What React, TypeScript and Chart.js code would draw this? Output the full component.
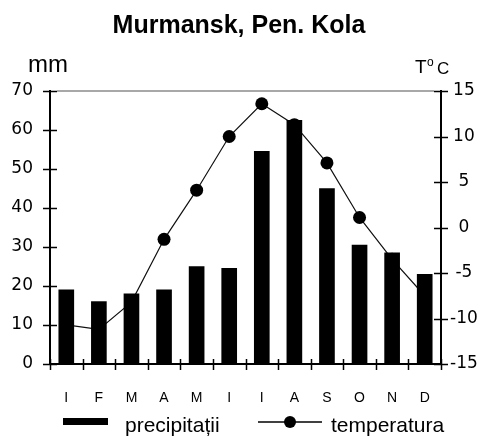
import React, { useEffect, useRef } from "react";
import { Chart, registerables } from "chart.js";

Chart.register(...registerables);

const months = ["I", "F", "M", "A", "M", "I", "I", "A", "S", "O", "N", "D"];
const precipitation = [19, 16, 18, 19, 25, 24.5, 54.5, 62.5, 45, 30.5, 28.5, 23];
const temperature = [-10.7, -11.2, -8.2, -1.3, 4.1, 10.0, 13.6, 11.3, 7.1, 1.1, -3.5, -7.5];
const precipTicks = { min: 0, max: 70, step: 10 };
const tempTicks = { min: -15, max: 15, step: 5 };
const titleText = "Murmansk, Pen. Kola";
const legendLabels = ["precipitații", "temperatura"];

const decorPlugin = {
  id: "decor",
  afterDraw(chart: any) {
    const ctx = chart.ctx as CanvasRenderingContext2D;
    const ca = chart.chartArea;
    const xs = chart.scales.x;
    const yl = chart.scales.y;
    const yr = chart.scales.y1;
    ctx.save();
    // top border
    ctx.strokeStyle = "#a8a8a8";
    ctx.lineWidth = 2;
    ctx.beginPath();
    ctx.moveTo(ca.left + 7, ca.top);
    ctx.lineTo(ca.right - 7, ca.top);
    ctx.stroke();
    // crossing ticks
    ctx.strokeStyle = "#000";
    ctx.lineWidth = 1.5;
    ctx.beginPath();
    yl.ticks.forEach((t: any) => {
      const y = Math.round(yl.getPixelForValue(t.value)) + 0.5;
      ctx.moveTo(ca.left - 7, y);
      ctx.lineTo(ca.left + 7, y);
    });
    yr.ticks.forEach((t: any) => {
      const y = Math.round(yr.getPixelForValue(t.value)) + 0.5;
      ctx.moveTo(ca.right - 7, y);
      ctx.lineTo(ca.right + 7, y);
    });
    const n = months.length;
    for (let i = 0; i <= n; i++) {
      const x = Math.round(xs.left + (i * xs.width) / n) + 0.5;
      ctx.moveTo(x, ca.bottom - 5);
      ctx.lineTo(x, ca.bottom + 6);
    }
    ctx.stroke();

    ctx.fillStyle = "#000";
    ctx.textBaseline = "alphabetic";
    // title
    ctx.font = "bold 25px 'Liberation Sans', Arial, sans-serif";
    ctx.textAlign = "center";
    ctx.fillText(titleText, 239, 33);
    // axis units
    ctx.textAlign = "left";
    ctx.font = "24px 'Liberation Sans', Arial, sans-serif";
    ctx.fillText("mm", 28, 72);
    ctx.font = "19px 'Liberation Sans', Arial, sans-serif";
    ctx.fillText("T", 415, 73);
    ctx.font = "12px 'Liberation Sans', Arial, sans-serif";
    ctx.fillText("o", 427, 66);
    ctx.font = "17px 'Liberation Sans', Arial, sans-serif";
    ctx.fillText("C", 437, 74);

    // legend
    ctx.fillRect(63, 418, 45, 7);
    ctx.font = "21px 'Liberation Sans', Arial, sans-serif";
    ctx.fillText(legendLabels[0], 125, 432);
    ctx.lineWidth = 1.5;
    ctx.beginPath();
    ctx.moveTo(258, 422);
    ctx.lineTo(322, 422);
    ctx.stroke();
    ctx.beginPath();
    ctx.arc(290, 422, 6, 0, Math.PI * 2);
    ctx.fill();
    ctx.fillText(legendLabels[1], 331, 432);
    ctx.restore();
  },
};

export default function App() {
  const ref = useRef<HTMLCanvasElement | null>(null);
  useEffect(() => {
    if (!ref.current) return;
    const chart = new Chart(ref.current, {
      type: "bar",
      data: {
        labels: months,
        datasets: [
          {
            type: "bar",
            label: legendLabels[0],
            data: precipitation,
            backgroundColor: "#000",
            barThickness: 15,
            yAxisID: "y",
            order: 1,
          },
          {
            type: "line",
            label: legendLabels[1],
            data: temperature,
            borderColor: "#111",
            borderWidth: 1.2,
            pointRadius: 6.5,
            pointBackgroundColor: "#000",
            pointBorderWidth: 0,
            tension: 0,
            yAxisID: "y1",
            order: 2,
          } as any,
        ],
      },
      options: {
        responsive: false,
        animation: false,
        devicePixelRatio: 1,
        layout: { padding: { top: 91, left: 0, right: 0, bottom: 0 } },
        plugins: {
          legend: { display: false },
          title: { display: false },
          tooltip: { enabled: false },
        },
        scales: {
          x: {
            offset: true,
            grid: { display: false, drawTicks: false },
            border: { display: true, color: "#000", width: 2 },
            ticks: {
              color: "#000",
              padding: 26,
              font: { family: "'Liberation Sans', Arial, sans-serif", size: 14 },
              maxRotation: 0,
              autoSkip: false,
            },
            afterFit: (s: any) => {
              s.height = 76;
            },
          },
          y: {
            position: "left",
            min: precipTicks.min,
            max: precipTicks.max,
            grid: { display: false, drawTicks: false },
            border: { display: true, color: "#000", width: 2 },
            ticks: {
              stepSize: precipTicks.step,
              color: "#000",
              padding: 17,
              font: { family: "'DejaVu Sans', sans-serif", size: 17 },
            },
            afterFit: (s: any) => {
              s.width = 50;
            },
          },
          y1: {
            position: "right",
            min: tempTicks.min,
            max: tempTicks.max,
            grid: { display: false, drawTicks: false },
            border: { display: true, color: "#000", width: 2 },
            ticks: {
              stepSize: tempTicks.step,
              color: "#000",
              padding: 9,
              crossAlign: "center",
              font: { family: "'DejaVu Sans', sans-serif", size: 17 },
            },
            afterFit: (s: any) => {
              s.width = 47;
            },
          },
        },
      },
      plugins: [decorPlugin],
    });
    return () => chart.destroy();
  }, []);
  return (
    <div style={{ position: "fixed", left: 0, top: 0, width: 488, height: 440, background: "#fff" }}>
      <canvas ref={ref} width={488} height={440} style={{ width: 488, height: 440, display: "block" }} />
    </div>
  );
}
